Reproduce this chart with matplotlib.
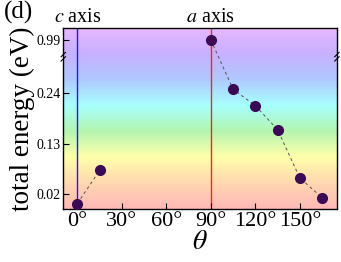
import numpy as np
import matplotlib
matplotlib.use('Agg')
import matplotlib.pyplot as plt
from matplotlib.colors import LinearSegmentedColormap
import matplotlib.transforms as mtransforms

# data
theta_c = [0, 15]
energy_c = [0.0, 0.072]
theta_a = [90, 105, 120, 135, 150, 165]
energy_a = [0.99, 0.249, 0.213, 0.161, 0.0555, 0.0128]
ytick_vals = [0.02, 0.13, 0.24, 0.99]
ytick_labels = ['0.02', '0.13', '0.24', '0.99']
xtick_vals = [0, 30, 60, 90, 120, 150]
xtick_labels = ['0°', '30°', '60°', '90°', '120°', '150°']

plt.rcParams['font.family'] = ['Liberation Serif', 'DejaVu Serif']
plt.rcParams['mathtext.fontset'] = 'stix'

# compressed scale above the break
brk = 0.3
k = 0.0812

def fwd(v):
    v = np.asarray(v, dtype=float)
    return np.where(v <= brk, v, brk + (v - brk) * k)

def inv(v):
    v = np.asarray(v, dtype=float)
    return np.where(v <= brk, v, brk + (v - brk) / k)

fig = plt.figure(figsize=(3.41, 2.62), dpi=100)
ax = fig.add_axes([0.1856, 0.201, 0.8024, 0.691])
ax.set_yscale('function', functions=(fwd, inv))
ax.set_xlim(-9.5, 175)
ax.set_ylim(-0.0127, 1.305)

# pastel rainbow background
cols = ['#ffb8b8', '#ffd8b0', '#ffffaa', '#b4f5b0', '#a8ffff', '#b0c8ff', '#c8b0ff', '#e8b8ff']
cmap = LinearSegmentedColormap.from_list('bg', cols)
grad = np.linspace(0, 1, 256).reshape(-1, 1)
ax.imshow(grad, cmap=cmap, aspect='auto', origin='lower', extent=[0, 1, 0, 1],
          transform=ax.transAxes, zorder=0)

ax.axvline(0, color='#1a1aff', lw=1.0, zorder=1)
ax.axvline(90, color='#ff2020', lw=1.0, zorder=1)

ax.plot(theta_c, energy_c, ls=(0, (3, 3)), color='#555555', lw=0.7, zorder=2)
ax.plot(theta_a, energy_a, ls=(0, (3, 3)), color='#555555', lw=0.7, zorder=2)
ax.plot(theta_c + theta_a, energy_c + energy_a, 'o', ms=7, color='#3a0a55', zorder=3,
        ls='none')

ax.set_yticks(ytick_vals)
ax.set_yticklabels(ytick_labels, fontsize=10)
ax.set_xticks(xtick_vals)
ax.set_xticklabels(xtick_labels, fontsize=16)
ax.minorticks_off()
ax.tick_params(direction='in', length=4, width=0.8, pad=2)
ax.tick_params(axis='x', pad=2)
for s in ax.spines.values():
    s.set_linewidth(1.0)

# break marks on both spines
yb = 0.843
for xs in (0, 1):
    for dy in (-0.012, 0.012):
        ax.plot([xs - 0.008, xs + 0.008], [yb + dy - 0.012, yb + dy + 0.012],
                transform=ax.transAxes, color='k', lw=0.8, clip_on=False, zorder=5)

ax.set_ylabel('total energy (eV)', fontsize=19.5, labelpad=1)
ax.set_xlabel(r'$\theta$', fontsize=20, labelpad=-1)

trans = mtransforms.blended_transform_factory(ax.transData, ax.transAxes)
ax.text(0, 1.005, r'$c$ axis', transform=trans, ha='center', va='bottom', fontsize=14.5)
ax.text(90, 1.005, r'$a$ axis', transform=trans, ha='center', va='bottom', fontsize=14.5)
fig.text(0.012, 0.998, '(d)', ha='left', va='top', fontsize=18)

fig.savefig('out.png', dpi=100)
